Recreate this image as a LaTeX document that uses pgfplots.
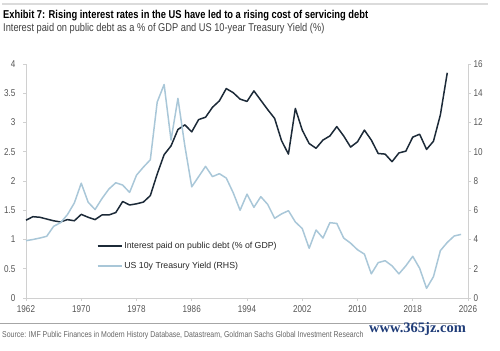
\documentclass[border=0pt]{standalone}
\usepackage{fontspec}
\setmainfont{Liberation Sans}[FakeStretch=0.82]
\newfontfamily\legfont{Liberation Sans}
\newfontfamily\wmfont{Liberation Serif}
\usepackage{pgfplots}
\pgfplotsset{compat=1.18}
\usepackage{pgfplotstable}
\definecolor{darkline}{HTML}{1C2A38}
\definecolor{lightline}{HTML}{A9C7D8}
\definecolor{axisgray}{HTML}{D0D0D0}
\definecolor{ticktext}{HTML}{555555}
\definecolor{wmblue}{HTML}{1F3C78}

\pgfplotstableread{
year val
1962 1.33
1963 1.39
1964 1.38
1965 1.35
1966 1.32
1967 1.30
1968 1.34
1969 1.32
1970 1.43
1971 1.38
1972 1.34
1973 1.42
1974 1.42
1975 1.46
1976 1.65
1977 1.59
1978 1.61
1979 1.64
1980 1.75
1981 2.12
1982 2.45
1983 2.60
1984 2.88
1985 2.96
1986 2.84
1987 3.05
1988 3.09
1989 3.26
1990 3.37
1991 3.58
1992 3.51
1993 3.40
1994 3.36
1995 3.54
1996 3.38
1997 3.22
1998 3.07
1999 2.69
2000 2.46
2001 3.24
2002 2.87
2003 2.64
2004 2.56
2005 2.70
2006 2.77
2007 2.93
2008 2.77
2009 2.58
2010 2.67
2011 2.87
2012 2.70
2013 2.47
2014 2.46
2015 2.33
2016 2.48
2017 2.51
2018 2.75
2019 2.80
2020 2.54
2021 2.68
2022 3.13
2023 3.85
}\interest

\pgfplotstableread{
year val
1962 3.92
1963 4.00
1964 4.10
1965 4.22
1966 4.90
1967 5.15
1968 5.70
1969 6.50
1970 7.85
1971 6.55
1972 6.05
1973 6.80
1974 7.45
1975 7.88
1976 7.72
1977 7.22
1978 8.40
1979 8.95
1980 9.45
1981 13.40
1982 14.60
1983 10.80
1984 13.65
1985 10.40
1986 7.60
1987 8.30
1988 9.00
1989 8.30
1990 8.50
1991 8.20
1992 7.20
1993 6.00
1994 7.10
1995 6.20
1996 6.93
1997 6.40
1998 5.45
1999 5.75
2000 5.97
2001 5.20
2002 4.75
2003 3.40
2004 4.65
2005 4.10
2006 5.15
2007 5.10
2008 4.10
2009 3.75
2010 3.30
2011 3.00
2012 1.65
2013 2.42
2014 2.55
2015 2.20
2016 1.65
2017 2.20
2018 2.85
2019 2.03
2020 0.66
2021 1.46
2022 3.24
2023 3.80
2024 4.24
2025 4.35
}\treasury

\begin{document}
\begin{tikzpicture}
\path[use as bounding box] (0bp,0bp) rectangle (500bp,-351bp);
% top rule
\draw[black!14, line width=2.2bp] (2bp,-4bp) -- (488bp,-4bp);
% title and subtitle
\node[anchor=west, inner sep=0pt] at (3bp,-16bp) {\fontsize{11.4bp}{12bp}\selectfont\bfseries Exhibit 7: Rising interest rates in the US have led to a rising cost of servicing debt};
\node[anchor=west, inner sep=0pt, text=black!75] at (3bp,-29bp) {\fontsize{11.3bp}{12bp}\selectfont Interest paid on public debt as a \% of GDP and US 10-year Treasury Yield (\%)};

\begin{axis}[
  at={(26bp,-298bp)}, anchor=south west,
  scale only axis, width=442bp, height=234bp,
  xmin=1962, xmax=2026, ymin=0, ymax=4,
  axis x line*=bottom, axis y line*=left,
  axis line style={axisgray, line width=0.8bp, -},
  xtick={1962,1970,1978,1986,1994,2002,2010,2018,2026},
  ytick={0,0.5,1,1.5,2,2.5,3,3.5,4},
  yticklabels={0,0.5,1,1.5,2,2.5,3,3.5,4},
  xticklabel style={/pgf/number format/1000 sep={}},
  /pgf/number format/assume math mode=true,
  tick style={axisgray, line width=0.6bp},
  tick align=outside, major tick length=3bp,
  ticklabel style={font=\fontsize{9.9bp}{10bp}\selectfont, text=ticktext},
  yticklabel style={xshift=-4bp},
  xticklabel style={yshift=-1bp},
  clip=false,
  legend style={at={(0.160,0.248)}, anchor=north west, draw=none, fill=none,
    font=\legfont\fontsize{8.75bp}{10bp}\selectfont, text=black!85,
    row sep=8bp, inner sep=0pt,
    /tikz/every even column/.append style={column sep=0bp}},
  legend cell align=left,
  legend image code/.code={\draw[#1] (0bp,0bp) -- (24bp,0bp);},
]
\addplot[darkline, line width=1.5bp, line join=round] table[x=year, y=val] {\interest};
\addlegendentry{Interest paid on public debt (\% of GDP)}
\addlegendimage{lightline, line width=1.5bp}
\addlegendentry{US 10y Treasury Yield (RHS)}
\end{axis}

\begin{axis}[
  at={(26bp,-298bp)}, anchor=south west,
  scale only axis, width=442bp, height=234bp,
  xmin=1962, xmax=2026, ymin=0, ymax=16,
  axis x line=none, axis y line*=right,
  axis line style={axisgray, line width=0.8bp, -},
  ytick={0,2,4,6,8,10,12,14,16},
  /pgf/number format/assume math mode=true,
  tick style={axisgray, line width=0.6bp},
  tick align=outside, major tick length=3bp,
  ticklabel style={font=\fontsize{9.9bp}{10bp}\selectfont, text=ticktext},
  yticklabel style={xshift=-1bp},
  clip=false,
]
\addplot[lightline, line width=1.5bp, line join=round] table[x=year, y=val] {\treasury};
\end{axis}

% source line
\draw[black!35, line width=0.5bp] (0bp,-323bp) -- (457bp,-323bp);
\node[anchor=west, inner sep=0pt, text=black!60] at (2bp,-335bp) {\fontsize{8.5bp}{9bp}\selectfont Source: IMF Public Finances in Modern History Database, Datastream, Goldman Sachs Global Investment Research};
\node[anchor=west, inner sep=0pt, text=wmblue] at (369bp,-329bp) {\wmfont\bfseries\fontsize{14.5bp}{16bp}\selectfont www.365jz.com};
\end{tikzpicture}
\end{document}
